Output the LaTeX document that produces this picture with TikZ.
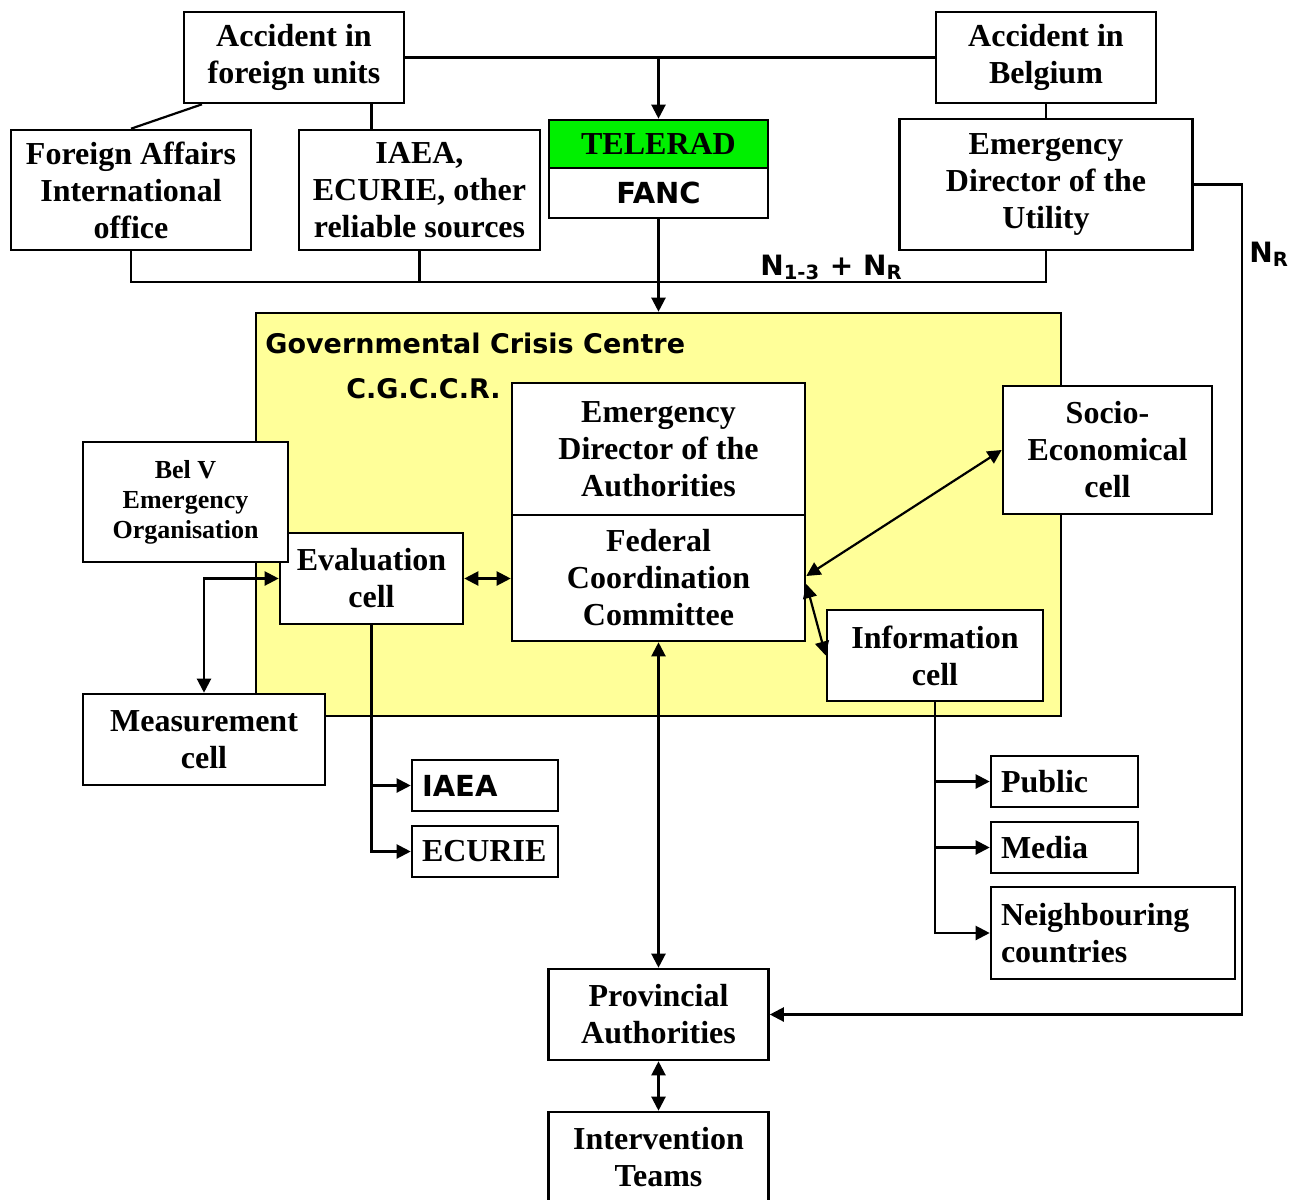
\documentclass[tikz,border=0pt]{standalone}
\usepackage{fontspec}
\setmainfont{Liberation Serif}
\newfontfamily\verdsans{DejaVu Sans}
\usetikzlibrary{arrows.meta}
\definecolor{crisisyellow}{RGB}{255,255,153}
\definecolor{teleradgreen}{RGB}{0,240,0}
\tikzset{
	cellbox/.style={draw, line width=1.3pt, fill=white, align=center, inner sep=0pt,
		font=\fontsize{16}{18.5}\selectfont\bfseries},
	listbox/.style={cellbox, align=left, inner xsep=5pt},
	sanslabel/.style={inner sep=0pt, font=\verdsans\fontsize{14}{17}\selectfont\bfseries},
	titlelabel/.style={sanslabel, font=\verdsans\fontsize{13.5}{17}\selectfont\bfseries},
	wire/.style={line width=1.1pt},
	feed/.style={wire, -{Triangle[length=7pt,width=7pt]}},
	twoway/.style={wire, {Triangle[length=7pt,width=7pt]}-{Triangle[length=7pt,width=7pt]}},
}
\begin{document}
\begin{tikzpicture}[x=0.5pt, y=-0.5pt]
		%%%%% START %%%%%
		\useasboundingbox (0,0) rectangle (1297,1200);
		
		\node[draw, line width=1.3pt, fill=crisisyellow, minimum width=402.5pt, minimum height=201.5pt] (crisis) at (658.5,514.5) {};
		\node[titlelabel, anchor=base west] (gcc) at (265,353) {Governmental Crisis Centre};
		\node[titlelabel, anchor=base west] (cgccr) at (346,398) {C.G.C.C.R.};
		
		\node[cellbox, minimum width=110pt, minimum height=45.5pt] (accforeign) at (294,57.5) {Accident in\\foreign units};
		\node[cellbox, minimum width=110pt, minimum height=45.5pt] (accbelgium) at (1046,57.5) {Accident in\\Belgium};
		\node[cellbox, minimum width=120pt, minimum height=60pt] (foreignaff) at (131,190) {Foreign Affairs\\International\\office};
		\node[cellbox, minimum width=120.5pt, minimum height=60pt] (sources) at (419.5,190) {IAEA,\\ECURIE, other\\reliable sources};
		\node[cellbox, fill=teleradgreen, minimum width=109.5pt, minimum height=24pt] (telerad) at (658.5,144) {TELERAD};
		\node[cellbox, font=\verdsans\fontsize{14.5}{17}\selectfont\bfseries, minimum width=109.5pt, minimum height=25pt] (fanc) at (658.5,193) {FANC};
		\node[cellbox, minimum width=146.5pt, minimum height=65.5pt] (edutility) at (1046,184.5) {Emergency\\Director of the\\Utility};
		
		\node[sanslabel, anchor=base west] (nall) at (760,275) {N\textsubscript{1-3} + N\textsubscript{R}};
		\node[sanslabel, anchor=base west] (nr) at (1249,262) {N\textsubscript{R}};
		
		\node[cellbox, minimum width=91.5pt, minimum height=45.5pt] (evalcell) at (371.5,578.5) {Evaluation\\cell};
		\node[cellbox, font=\fontsize{13}{15}\selectfont\bfseries, minimum width=102.5pt, minimum height=60pt] (belv) at (185.5,502) {Bel V\\Emergency\\Organisation};
		\node[cellbox, minimum width=146.5pt, minimum height=66pt] (edauth) at (658.5,449) {Emergency\\Director of the\\Authorities};
		\node[cellbox, minimum width=146.5pt, minimum height=63pt] (fedcoord) at (658.5,578) {Federal\\Coordination\\Committee};
		\node[cellbox, minimum width=104.5pt, minimum height=64pt] (socio) at (1107.5,450) {Socio-\\Economical\\cell};
		\node[cellbox, minimum width=108pt, minimum height=45.5pt] (infocell) at (935,655.5) {Information\\cell};
		\node[cellbox, minimum width=121pt, minimum height=45.5pt] (measure) at (204,739.5) {Measurement\\cell};
		
		\node[listbox, font=\verdsans\fontsize{14.5}{17}\selectfont\bfseries, text width=63pt, minimum height=25.5pt] (iaea) at (485,785.5) {IAEA};
		\node[listbox, text width=63pt, minimum height=25.5pt] (ecurie) at (485,851.5) {ECURIE};
		\node[listbox, text width=63.5pt, minimum height=25.5pt] (public) at (1064.5,781.5) {Public};
		\node[listbox, text width=63.5pt, minimum height=25.5pt] (media) at (1064.5,847.5) {Media};
		\node[listbox, text width=112pt, minimum height=46pt] (neighbour) at (1113,933) {Neighbouring\\countries};
		
		\node[cellbox, minimum width=110pt, minimum height=45.5pt] (provincial) at (658.5,1014.5) {Provincial\\Authorities};
		\node[cellbox, minimum width=110pt, minimum height=45.5pt] (intervention) at (658.5,1157.5) {Intervention\\Teams};
		
		% alerting
		\draw[wire] (accforeign.east) -- (accbelgium.west);
		\draw[feed] (accforeign.east -| telerad.north) -- (telerad.north);
		\draw[wire] ([xshift=-46pt]accforeign.south) -- (foreignaff.north);
		\coordinate (srctop) at ([xshift=-24pt]sources.north);
		\draw[wire] (srctop) -- (srctop |- accforeign.south);
		\draw[wire] (accbelgium.south) -- (edutility.north);
		\draw[wire] (foreignaff.south) -- ++(0,31) -| (edutility.south);
		\draw[wire] (sources.south) -- ++(0,31);
		\draw[feed] (fanc.south) -- (crisis.north);
		\draw[feed] (edutility.east) -- ++(48,0) |- (provincial.east);
		
		% crisis centre
		\draw[twoway] (evalcell.west) -| (measure.north);
		\draw[twoway] (evalcell.east) -- (evalcell.east -| fedcoord.west);
		\draw[twoway] ([yshift=1pt]fedcoord.east) -- (socio.west);
		\draw[twoway] ([yshift=-3pt]fedcoord.east) -- (infocell.west);
		\draw[twoway] (fedcoord.south) -- (provincial.north);
		\draw[twoway] (provincial.south) -- (intervention.north);
		
		% outgoing information
		\draw[feed] (evalcell.south) |- (iaea.west);
		\draw[feed] (evalcell.south) |- (ecurie.west);
		\draw[feed] (infocell.south) |- (public.west);
		\draw[feed] (infocell.south) |- (media.west);
		\draw[feed] (infocell.south) |- (neighbour.west);
		
		%%%%% END %%%%%
	\end{tikzpicture}
\end{document}
